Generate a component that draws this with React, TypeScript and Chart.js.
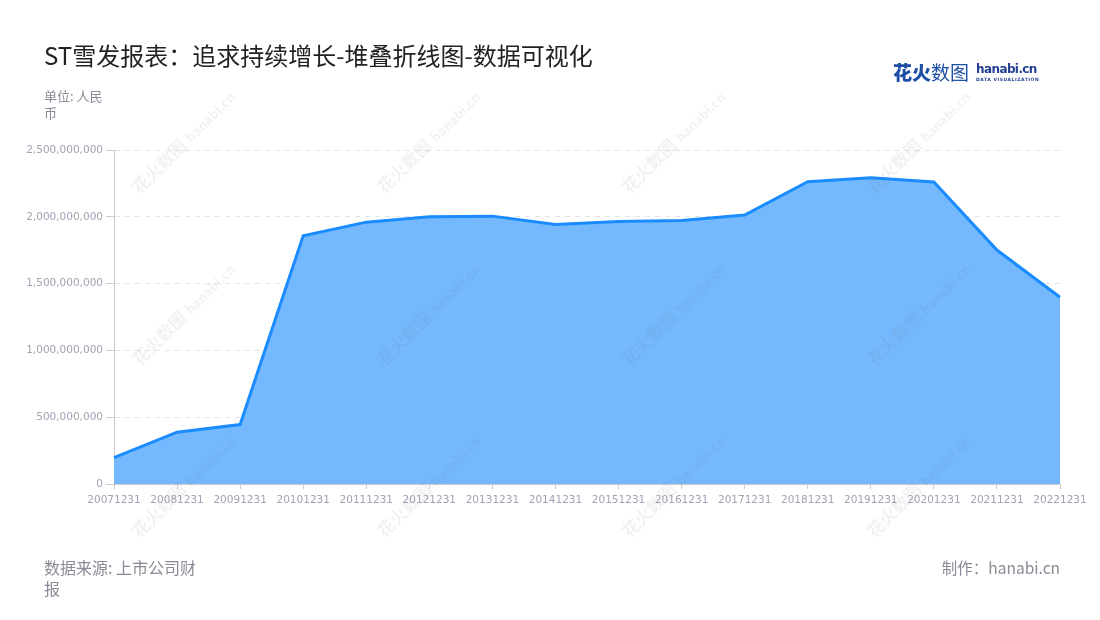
import React, { useEffect, useRef } from "react";
import { Chart, registerables } from "chart.js";

Chart.register(...registerables);

const periods = [
    "20071231", "20081231", "20091231", "20101231", "20111231", "20121231",
    "20131231", "20141231", "20151231", "20161231", "20171231", "20181231",
    "20191231", "20201231", "20211231", "20221231",
];
// 营业收入 (人民币)
const revenue = [
    198000000, 388000000, 445000000, 1858000000, 1960000000, 2000000000,
    2005000000, 1942000000, 1965000000, 1972000000, 2013000000, 2263000000,
    2293000000, 2261000000, 1751000000, 1398000000,
];
const yMax = 2500000000;
const yStep = 500000000;

const grey = "#a0a3b2";
const cjk = "'Noto Sans CJK SC', 'Noto Sans', sans-serif";

const marks: { x: number; y: number }[] = [];
for (const x of [185, 430, 675, 920]) {
    for (const y of [140, 312, 484]) {
        marks.push({ x, y });
    }
}

const Watermark = ({ x, y }: { x: number; y: number }) => (
    <div style={{
        position: "absolute", left: x - 70, top: y - 12, width: 140,
        transform: "rotate(-45deg)", color: "rgba(110, 110, 120, 0.09)",
        fontFamily: cjk, whiteSpace: "nowrap", pointerEvents: "none",
        lineHeight: "24px",
    }}>
        <span style={{ fontSize: 17, fontWeight: 700 }}>花火数图</span>
        <span style={{ fontSize: 13, fontWeight: 700, marginLeft: 5 }}>hanabi.cn</span>
    </div>
);

const RevenueChart = () => {
    const canvas = useRef<HTMLCanvasElement>(null);
    useEffect(() => {
        const chart = new Chart(canvas.current!, {
            type: "line",
            data: {
                labels: periods,
                datasets: [{
                    label: "营业收入",
                    data: revenue,
                    fill: "origin",
                    borderColor: "#1a8cff",
                    backgroundColor: "#74b8fd",
                    borderWidth: 3,
                    pointRadius: 0,
                    tension: 0,
                }],
            },
            options: {
                responsive: false,
                animation: false,
                layout: { padding: { top: 150, right: 40, left: 0, bottom: 0 } },
                plugins: { legend: { display: false }, tooltip: { enabled: false } },
                scales: {
                    x: {
                        offset: false,
                        grid: {
                            drawOnChartArea: false, tickLength: 5, color: "#cccccc",
                        },
                        border: { color: "#cccccc" },
                        ticks: {
                            autoSkip: false, maxRotation: 0, padding: 5, color: grey,
                            font: { family: "'DejaVu Sans'", size: 10.5 },
                        },
                        afterFit: (scale) => { scale.height = 136; },
                    },
                    y: {
                        min: 0,
                        max: yMax,
                        grid: { color: "#e4e4e4", tickLength: 8, tickColor: "#cccccc" },
                        border: { color: "#cccccc", dash: [5, 5] },
                        ticks: {
                            stepSize: yStep, padding: 3, color: grey,
                            font: { family: "'DejaVu Sans'", size: 10.5 },
                            callback: (v) => Number(v).toLocaleString("en-US"),
                        },
                        afterFit: (scale) => { scale.width = 114; },
                    },
                },
            },
        });
        return () => chart.destroy();
    }, []);
    return <canvas ref={canvas} width={1100} height={620}
        style={{ position: "absolute", left: 0, top: 0, width: 1100, height: 620 }} />;
};

export default function App() {
    return (
        <div style={{
            position: "absolute", left: 0, top: 0, width: 1100, height: 620,
            background: "#fff", overflow: "hidden", fontFamily: cjk,
        }}>
            <RevenueChart />
            <div style={{
                position: "absolute", left: 44, top: 42, fontSize: 24, lineHeight: "26px",
                color: "#222",
            }}>ST雪发报表：追求持续增长-堆叠折线图-数据可视化</div>
            <div style={{
                position: "absolute", left: 44, top: 87, width: 70, fontSize: 13,
                lineHeight: "17px", color: "#8a8a96",
            }}>单位: 人民币</div>
            <div style={{
                position: "absolute", left: 893, top: 60, whiteSpace: "nowrap",
            }}>
                <span style={{
                    fontSize: 19, fontWeight: 900, color: "#1d4fa6", lineHeight: "24px",
                }}>花火<span style={{ fontWeight: 400 }}>数图</span></span>
                <div style={{ position: "absolute", left: 83, top: 1, color: "#233f93" }}>
                    <div style={{
                        fontFamily: "'DejaVu Sans'", fontSize: 12, fontWeight: 700,
                        lineHeight: "16px", letterSpacing: -0.6,
                    }}>hanabi.cn</div>
                    <div style={{
                        fontFamily: "'DejaVu Sans'", fontSize: 4.5, fontWeight: 700,
                        lineHeight: "6px", letterSpacing: 0.55,
                    }}>DATA VISUALIZATION</div>
                </div>
            </div>
            {marks.map((m, i) => <Watermark key={i} x={m.x} y={m.y} />)}
            <div style={{
                position: "absolute", left: 44, top: 557, width: 160, fontSize: 16,
                lineHeight: "21px", color: "#8a8a96",
            }}>数据来源: 上市公司财报</div>
            <div style={{
                position: "absolute", right: 40, top: 557, fontSize: 15.5,
                lineHeight: "21px", color: "#8a8a96",
            }}>制作：hanabi.cn</div>
        </div>
    );
}
